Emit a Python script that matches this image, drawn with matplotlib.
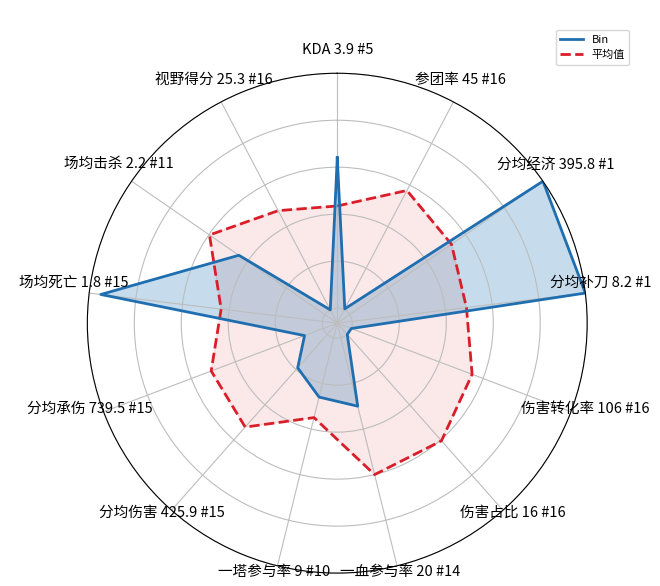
import numpy as np
import matplotlib.pyplot as plt
from matplotlib.transforms import offset_copy

plt.rcParams['font.family'] = ['Noto Sans CJK SC', 'DejaVu Sans']

# 雷达图数据 (已归一化到 0~1)
categories = ['KDA', '参团率', '分均经济', '分均补刀', '伤害转化率', '伤害占比', '一血参与率',
              '一塔参与率', '分均伤害', '分均承伤', '场均死亡', '场均击杀', '视野得分']
raw_values = ['3.9', '45', '395.8', '8.2', '106', '16', '20', '9', '425.9', '739.5', '1.8', '2.2', '25.3']
ranks = [5, 16, 1, 1, 16, 16, 14, 10, 15, 15, 15, 11, 16]
bin_norm = [0.64, 0.005, 1.0, 1.0, 0.0, 0.0, 0.30, 0.26, 0.19, 0.085, 0.95, 0.445, 0.0]
avg_norm = [0.435, 0.574, 0.527, 0.49, 0.55, 0.605, 0.60, 0.35, 0.527, 0.51, 0.434, 0.597, 0.477]

labels = [f"{c} {v} #{r}" for c, v, r in zip(categories, raw_values, ranks)]

n = len(categories)
angles = np.linspace(0, 2 * np.pi, n, endpoint=False)
angles_closed = np.concatenate([angles, angles[:1]])
bin_closed = np.concatenate([bin_norm, bin_norm[:1]])
avg_closed = np.concatenate([avg_norm, avg_norm[:1]])

fig = plt.figure(figsize=(6.6, 5.86), dpi=100)
ax = fig.add_axes([0.132, 0.022, 0.758, 0.853], polar=True)
ax.set_theta_offset(np.pi / 2)
ax.set_theta_direction(-1)

red = '#d91e2a'
blue = '#1f6eb0'
ax.fill(angles_closed, avg_closed, color=red, alpha=0.1)
ax.plot(angles_closed, avg_closed, color=red, linestyle='--', linewidth=2, label='平均值')
ax.fill(angles_closed, bin_closed, color='#1f77b4', alpha=0.25)
ax.plot(angles_closed, bin_closed, color=blue, linewidth=2, label='Bin')

ax.set_xticks(angles)
ax.set_xticklabels([])
ax.set_ylim(-0.064, 1.0)
ax.set_yticks([0, 0.2, 0.4, 0.6, 0.8, 1.0])
ax.set_yticklabels([])
ax.grid(color='#bdbdbd', linewidth=0.8)

# 类别标签: 放在外圈外, 略微上移
label_tr = offset_copy(ax.transData, fig=fig, x=0, y=6, units='points')
for ang, lab in zip(angles, labels):
    ax.text(ang, 1.064, lab, transform=label_tr, ha='center', va='center',
            fontsize=10.5, clip_on=False)

handles, lbls = ax.get_legend_handles_labels()
fig.legend(handles[::-1], lbls[::-1], loc='upper right', bbox_to_anchor=(0.962, 0.958), fontsize=8)

fig.savefig('out.png', dpi=100)
